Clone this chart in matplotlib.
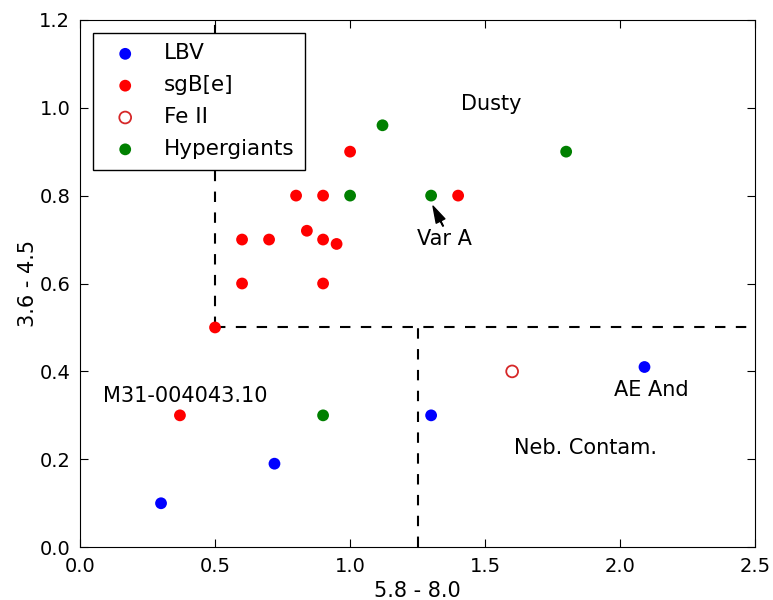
import numpy as np
import matplotlib
matplotlib.use('Agg')
import matplotlib.pyplot as plt

# colour indices
lbv_x = [0.30, 0.72, 1.30, 2.09]
lbv_y = [0.10, 0.19, 0.30, 0.41]

sgbe_x = [0.37, 0.50, 0.60, 0.60, 0.70, 0.80, 0.84, 0.90, 0.90, 0.90, 0.95, 1.00, 1.40]
sgbe_y = [0.30, 0.50, 0.60, 0.70, 0.70, 0.80, 0.72, 0.80, 0.70, 0.60, 0.69, 0.90, 0.80]

feii_x = [1.60]
feii_y = [0.40]

hyp_x = [0.90, 1.00, 1.12, 1.30, 1.80]
hyp_y = [0.30, 0.80, 0.96, 0.80, 0.90]

plt.rcParams['font.family'] = 'DejaVu Sans'
plt.rcParams['font.size'] = 15

fig = plt.figure(figsize=(7.73, 6.0), dpi=100)
ax = fig.add_axes([0.1035, 0.088, 0.8735, 0.879])

ms = 72
ax.scatter(lbv_x, lbv_y, s=ms, c='b', edgecolors='none', label='LBV', zorder=3)
ax.scatter(sgbe_x, sgbe_y, s=ms, c='r', edgecolors='none', label='sgB[e]', zorder=3)
ax.scatter(feii_x, feii_y, s=ms, facecolors='none', edgecolors='#d62728', linewidths=1.3,
           label='Fe II', zorder=3)
ax.scatter(hyp_x, hyp_y, s=ms, c='g', edgecolors='none', label='Hypergiants', zorder=3)

# region boundaries
ax.plot([0.5, 0.5], [0.5, 1.2], 'k--', lw=1.5, dashes=(5, 5), zorder=2)
ax.plot([0.5, 2.5], [0.5, 0.5], 'k--', lw=1.5, dashes=(5, 5), zorder=2)
ax.plot([1.25, 1.25], [0.0, 0.5], 'k--', lw=1.5, dashes=(5, 5), zorder=2)

ax.text(1.41, 0.995, 'Dusty', fontsize=15)
ax.text(0.085, 0.331, 'M31-004043.10', fontsize=15)
ax.text(1.978, 0.344, 'AE And', fontsize=15)
ax.text(1.607, 0.212, 'Neb. Contam.', fontsize=15)
ax.annotate('Var A', xy=(1.307, 0.776), xytext=(1.248, 0.688), fontsize=15,
            arrowprops=dict(facecolor='black', edgecolor='black', width=0.5,
                            headwidth=7, headlength=12, shrink=0.0),
            )

ax.set_xlim(0, 2.5)
ax.set_ylim(0, 1.2)
ax.set_xticks(np.arange(0, 2.51, 0.5))
ax.set_yticks(np.arange(0, 1.21, 0.2))
ax.tick_params(direction='in', top=True, right=True, length=6, labelsize=14, pad=7)
ax.set_xlabel('5.8 - 8.0', fontsize=15, labelpad=4)
ax.set_ylabel('3.6 - 4.5', fontsize=15, labelpad=1)

leg = ax.legend(loc='upper left', scatterpoints=1, fancybox=False, edgecolor='black',
                framealpha=1, borderpad=0.5, labelspacing=0.55, handletextpad=0.8,
                borderaxespad=0.6, fontsize=15.5)
leg.set_zorder(5)

fig.savefig('out.png', dpi=100)
